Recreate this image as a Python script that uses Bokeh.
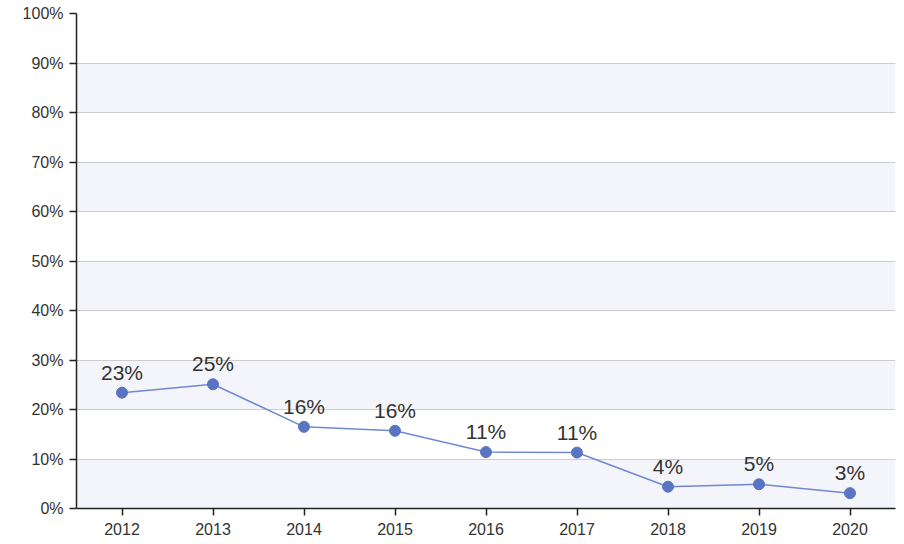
from bokeh.plotting import figure
from bokeh.models import ColumnDataSource, FixedTicker, PrintfTickFormatter, Range1d
from bokeh.core.properties import value
from bokeh.embed import file_html
from bokeh.resources import INLINE

years = ["2012", "2013", "2014", "2015", "2016", "2017", "2018", "2019", "2020"]
shares = [23.4, 25.1, 16.5, 15.7, 11.4, 11.3, 4.4, 4.9, 3.1]
labels = ["23%", "25%", "16%", "16%", "11%", "11%", "4%", "5%", "3%"]
y_ticks = [0, 10, 20, 30, 40, 50, 60, 70, 80, 90, 100]

# alternate shaded bands: 0-10, 20-30, ... 80-90 (taken from the tick list)
band_lo = y_ticks[0:-1:2]
band_hi = y_ticks[1::2]

src = ColumnDataSource(dict(x=years, y=shares, lab=labels))
bands = ColumnDataSource(dict(y0=band_lo, y1=band_hi))

p = figure(x_range=years, y_range=Range1d(0, 100),
           frame_width=819, frame_height=495,
           min_border_left=76, min_border_top=13, min_border_right=1, min_border_bottom=30,
           output_backend="svg", toolbar_location=None, tools="")
p.outline_line_color = None
p.background_fill_color = "white"

p.hstrip(y0="y0", y1="y1", source=bands, fill_color="#f4f5fb", line_color=None, level="image")

p.xgrid.grid_line_color = None
p.ygrid.grid_line_color = "#cdcdd0"
p.ygrid.grid_line_width = 1

p.yaxis.ticker = FixedTicker(ticks=y_ticks)
p.yaxis.formatter = PrintfTickFormatter(format="%d%%")

for ax in (p.xaxis, p.yaxis):
    ax.axis_line_color = "#222222"
    ax.axis_line_width = 1.5
    ax.major_tick_line_color = "#222222"
    ax.major_tick_line_width = 1.5
    ax.major_tick_out = 7
    ax.major_tick_in = 0
    ax.minor_tick_line_color = None
    ax.major_label_text_font = "Liberation Sans"
    ax.major_label_text_font_size = "16px"
    ax.major_label_text_color = "#333333"
p.yaxis.major_label_standoff = 6
p.xaxis.major_label_standoff = 7

p.line("x", "y", source=src, line_color="#7088d2", line_width=1.5)
p.scatter("x", "y", source=src, size=11, fill_color="#5a74c4", line_color="#5a74c4")
p.text("x", "y", text="lab", source=src, y_offset=-9,
       text_align="center", text_baseline="bottom",
       text_font=value("Liberation Sans"), text_font_size="21px", text_color="#333333")

open("out.html", "w").write(file_html(p, INLINE))
